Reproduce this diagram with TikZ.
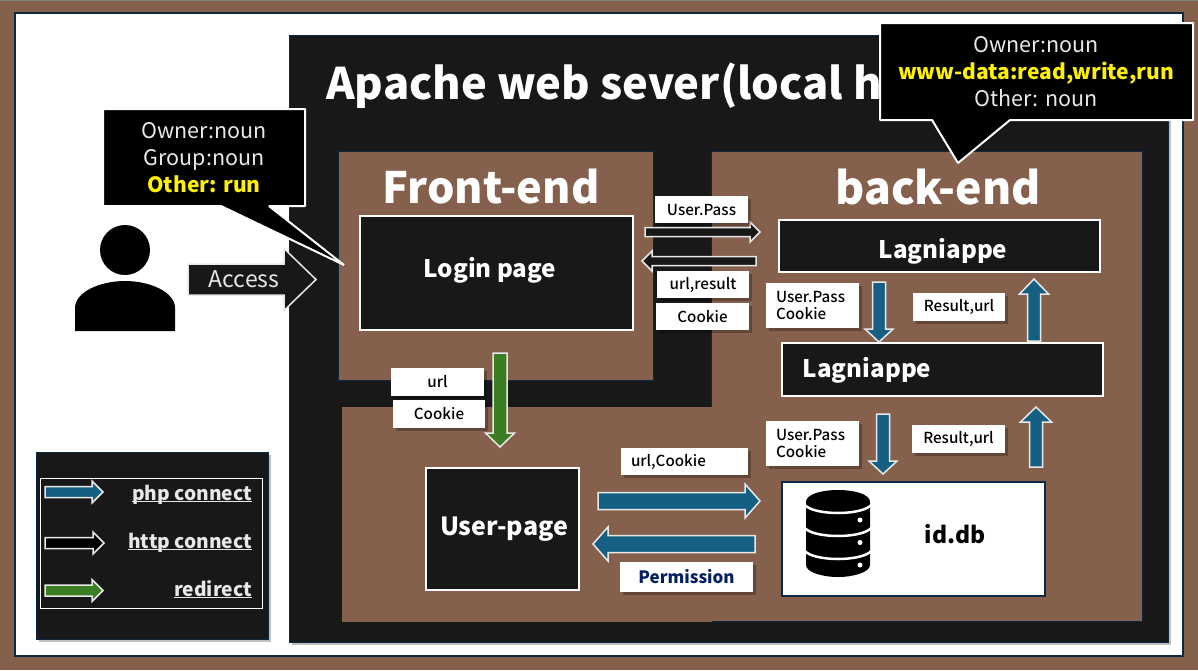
\documentclass[tikz,border=0pt]{standalone}
\usepackage{fontspec}
\setmainfont{Noto Sans CJK JP}
\newfontfamily\medfont{Noto Sans CJK JP Medium}
\usetikzlibrary{calc,shadows}
\definecolor{brownbg}{HTML}{84604D}
\definecolor{darkbg}{HTML}{181818}
\definecolor{navyline}{HTML}{0E2841}
\definecolor{bluearrow}{HTML}{156082}
\definecolor{greenarrow}{HTML}{3B7D23}
\definecolor{permcol}{HTML}{002060}
\definecolor{offwhite}{HTML}{E8E8E8}
\tikzset{
  softshadow/.style={drop shadow={shadow xshift=2.5pt,shadow yshift=-2.5pt,opacity=.25,fill=black}},
  panel/.style={fill=brownbg,draw=navyline,line width=1pt},
  darkbox/.style={fill=darkbg,draw=white,line width=2pt,text=white},
  boxtext/.style={text=white,anchor=base,inner sep=0pt,font=\bfseries\fontsize{24.2}{30}\selectfont},
  labelbox/.style={fill=white,softshadow,text=black,font=\medfont\fontsize{15.2}{18}\selectfont},
  heading/.style={text=white,anchor=base,inner sep=0pt},
  callout/.style={fill=black,draw=white,line width=2pt,line join=bevel},
  calltext/.style={text=offwhite,anchor=base,font=\fontsize{21.5}{27}\selectfont,inner sep=0pt},
  calltexty/.style={text=yellow,anchor=base,font=\bfseries\fontsize{21}{27}\selectfont,inner sep=0pt},
  arrowline/.style={draw=offwhite,line width=1.5pt,line join=miter},
  legtext/.style={text=offwhite,anchor=base east,inner sep=0pt,font=\bfseries\fontsize{19.2}{24}\selectfont}
}
% box from two corners: name, x1, y1, x2, y2, style, text
\newcommand{\cornerbox}[7]{%
  \pgfmathsetmacro{\cx}{(#2+#4)/2}\pgfmathsetmacro{\cy}{(#3+#5)/2}%
  \pgfmathsetmacro{\ww}{#4-#2}\pgfmathsetmacro{\hh}{#5-#3}%
  \node[inner sep=0pt,outer sep=0pt,align=center,minimum width=\ww pt,minimum height=\hh pt,#6] (#1) at (\cx,\cy) {#7};}
% block arrow: fill, from, to, half shaft, half head, head length
\newcommand{\blockarrow}[6]{%
  \coordinate (neck) at ($(#3)!#6pt!(#2)$);
  \draw[arrowline,fill=#1] ($(#2)!#4pt!90:(#3)$) -- ($(neck)!#4pt!-90:(#2)$) -- ($(neck)!#5pt!-90:(#2)$) -- (#3)
    -- ($(neck)!#5pt!90:(#2)$) -- ($(neck)!#4pt!90:(#2)$) -- ($(#2)!#4pt!-90:(#3)$) -- cycle;}
\begin{document}
\begin{tikzpicture}[x=1pt,y=-1pt]
\useasboundingbox (0,0) rectangle (1198,670);
\fill[brownbg] (0,0) rectangle (1198,670);
\fill[gray] (0,0) rectangle (1198,1);
\cornerbox{page}{15}{13}{1183}{656}{fill=white,draw=navyline,line width=2pt}{}
% Apache
\cornerbox{apache}{289}{35}{1168}{642}{fill=darkbg,draw=navyline,line width=1pt,softshadow}{}
\node[heading,anchor=base west,font=\bfseries\fontsize{43.5}{52}\selectfont] (title) at (326,99) {Apache web sever(local h};
% panels
\cornerbox{front}{338}{151}{653}{380}{panel}{}
\cornerbox{back}{711}{151}{1142}{621}{panel}{}
\cornerbox{lower}{342}{407}{712}{622}{fill=brownbg}{}
\node[heading,font=\bfseries\fontsize{43.2}{54}\selectfont] (fronttitle) at (491,203) {Front-end};
\node[heading,font=\bfseries\fontsize{44.5}{54}\selectfont] (backtitle) at (938,204) {back-end};
% main boxes
\cornerbox{login}{360}{216}{633}{330}{darkbox}{}
\node[boxtext] (logintext) at (490,277) {Login page};
\cornerbox{lag1}{779}{220}{1100}{272}{darkbox}{}
\node[boxtext] (lag1text) at (943,258) {Lagniappe};
\cornerbox{lag2}{782}{343}{1103}{396}{darkbox}{}
\node[boxtext] (lag2text) at (867,377) {Lagniappe};
\cornerbox{userpage}{425.5}{467.5}{579}{590}{darkbox}{}
\node[boxtext,font=\bfseries\fontsize{25}{30}\selectfont] (usertext) at (504,535) {User-page};
\cornerbox{db}{782}{482}{1045}{596}{fill=white,draw=navyline,line width=2pt}{}
\node[boxtext,text=black,font=\bfseries\fontsize{23}{30}\selectfont] (dbtext) at (955,543) {id.db};
% db icon
\fill[black] (806,502) -- (806,565) .. controls (806,572) and (822,577) .. (838,577) .. controls (854,577) and (870,572) .. (870,565) -- (870,502) .. controls (870,494) and (854,490) .. (838,490) .. controls (822,490) and (806,494) .. (806,502) -- cycle;
\draw[white,line width=2.5pt] (804,504) .. controls (812,516) and (864,516) .. (872,504);
\draw[white,line width=2.5pt] (804,527) .. controls (812,539) and (864,539) .. (872,527);
\draw[white,line width=2.5pt] (804,550) .. controls (812,562) and (864,562) .. (872,550);
\fill[white] (860,520) circle (2.5) (860,542.5) circle (2.5) (860,565) circle (2.5);
% person
\fill[black] (125,250) circle (25);
\fill[black] (75,331) -- (75,308) .. controls (75,292) and (100,281) .. (125,281) .. controls (150,281) and (175,292) .. (175,308) -- (175,331) -- cycle;
% arrows coordinates
\coordinate (uaA) at (645,232); \coordinate (uaB) at (760,232);
\coordinate (raA) at (756,261); \coordinate (raB) at (642,261);
\coordinate (d1A) at (879,282); \coordinate (d1B) at (879,342);
\coordinate (u1A) at (1034,341); \coordinate (u1B) at (1034,279);
\coordinate (d2A) at (883,414); \coordinate (d2B) at (883,474);
\coordinate (u2A) at (1036,467); \coordinate (u2B) at (1036,407);
\coordinate (cA) at (598,501); \coordinate (cB) at (760,501);
\coordinate (pA) at (755,544); \coordinate (pB) at (593,544);
\coordinate (gA) at (500,353); \coordinate (gB) at (500,447);
\coordinate (acA) at (188,279.5); \coordinate (acB) at (316,279.5);
\blockarrow{darkbg}{uaA}{uaB}{4.5}{10}{10}
\blockarrow{darkbg}{raA}{raB}{4.5}{10}{10}
\blockarrow{bluearrow}{d1A}{d1B}{6.5}{14}{13}
\blockarrow{bluearrow}{u1A}{u1B}{6.5}{14.5}{15}
\blockarrow{bluearrow}{d2A}{d2B}{6.5}{14}{13}
\blockarrow{bluearrow}{u2A}{u2B}{6.5}{15.5}{15}
\blockarrow{bluearrow}{cA}{cB}{8.5}{17}{15}
\blockarrow{bluearrow}{pA}{pB}{8.5}{17}{15}
\blockarrow{greenarrow}{gA}{gB}{7}{14.5}{14}
\blockarrow{darkbg}{acA}{acB}{15.5}{31}{32}
\node[text=offwhite,anchor=base,font=\fontsize{23}{26}\selectfont,inner sep=0pt] (access) at (244,287) {Access};
% labels
\cornerbox{l1}{655}{196}{748}{223}{labelbox}{User.Pass}
\cornerbox{l2}{657}{271}{749}{298}{labelbox}{url,result}
\cornerbox{l3}{656}{303}{749}{330}{labelbox}{Cookie}
\cornerbox{l4}{766}{283}{859}{328}{labelbox,align=left,text width=73pt}{User.Pass\\[-1pt]Cookie}
\cornerbox{l5}{913}{293}{1005}{321}{labelbox}{Result,url}
\cornerbox{l6}{766}{421}{859}{466}{labelbox,align=left,text width=73pt}{User.Pass\\[-1pt]Cookie}
\cornerbox{l7}{912}{425}{1005}{453}{labelbox}{Result,url}
\cornerbox{l8}{621}{448}{748}{475}{labelbox,align=left,text width=107pt}{url,Cookie}
\cornerbox{l9}{620}{562}{753}{592}{labelbox,text=permcol,font=\bfseries\fontsize{17}{20}\selectfont}{Permission}
\cornerbox{l10}{391}{368}{484}{396}{labelbox}{url}
\cornerbox{l11}{393}{400}{485}{428}{labelbox}{Cookie}
% callouts
\draw[callout] (103,109) -- (305,109) -- (305,206) -- (269,206) -- (344,265) -- (221,206) -- (103,206) -- cycle;
\node[calltext] (c1a) at (204,138) {Owner:noun};
\node[calltext] (c1b) at (204,165) {Group:noun};
\node[calltexty] (c1c) at (204,192) {Other: run};
\draw[callout] (880,23) -- (1193,23) -- (1193,120) -- (1010,120) -- (958,163) -- (932,120) -- (880,120) -- cycle;
\node[calltext] (c2a) at (1036,52) {Owner:noun};
\node[calltexty] (c2b) at (1036,79) {www-data:read,write,run};
\node[calltext] (c2c) at (1036,106) {Other: noun};
% legend
\cornerbox{legend}{36}{452}{268}{639}{fill=darkbg,draw=navyline,line width=1pt,softshadow}{}
\cornerbox{leginner}{40}{478}{262}{608}{draw=white,line width=1pt}{}
\coordinate (lg1A) at (45,492); \coordinate (lg1B) at (103,492);
\coordinate (lg2A) at (45,543); \coordinate (lg2B) at (104,543);
\coordinate (lg3A) at (45,590.5); \coordinate (lg3B) at (103,590.5);
\blockarrow{bluearrow}{lg1A}{lg1B}{5.5}{11}{11}
\blockarrow{black}{lg2A}{lg2B}{5.5}{11}{11}
\blockarrow{greenarrow}{lg3A}{lg3B}{5.5}{11}{11}
\node[legtext] (lt1) at (252,500) {\underline{\smash{php connect}}};
\node[legtext] (lt2) at (252,548) {\underline{\smash{http connect}}};
\node[legtext] (lt3) at (252,596) {\underline{\smash{redirect}}};
\end{tikzpicture}
\end{document}
